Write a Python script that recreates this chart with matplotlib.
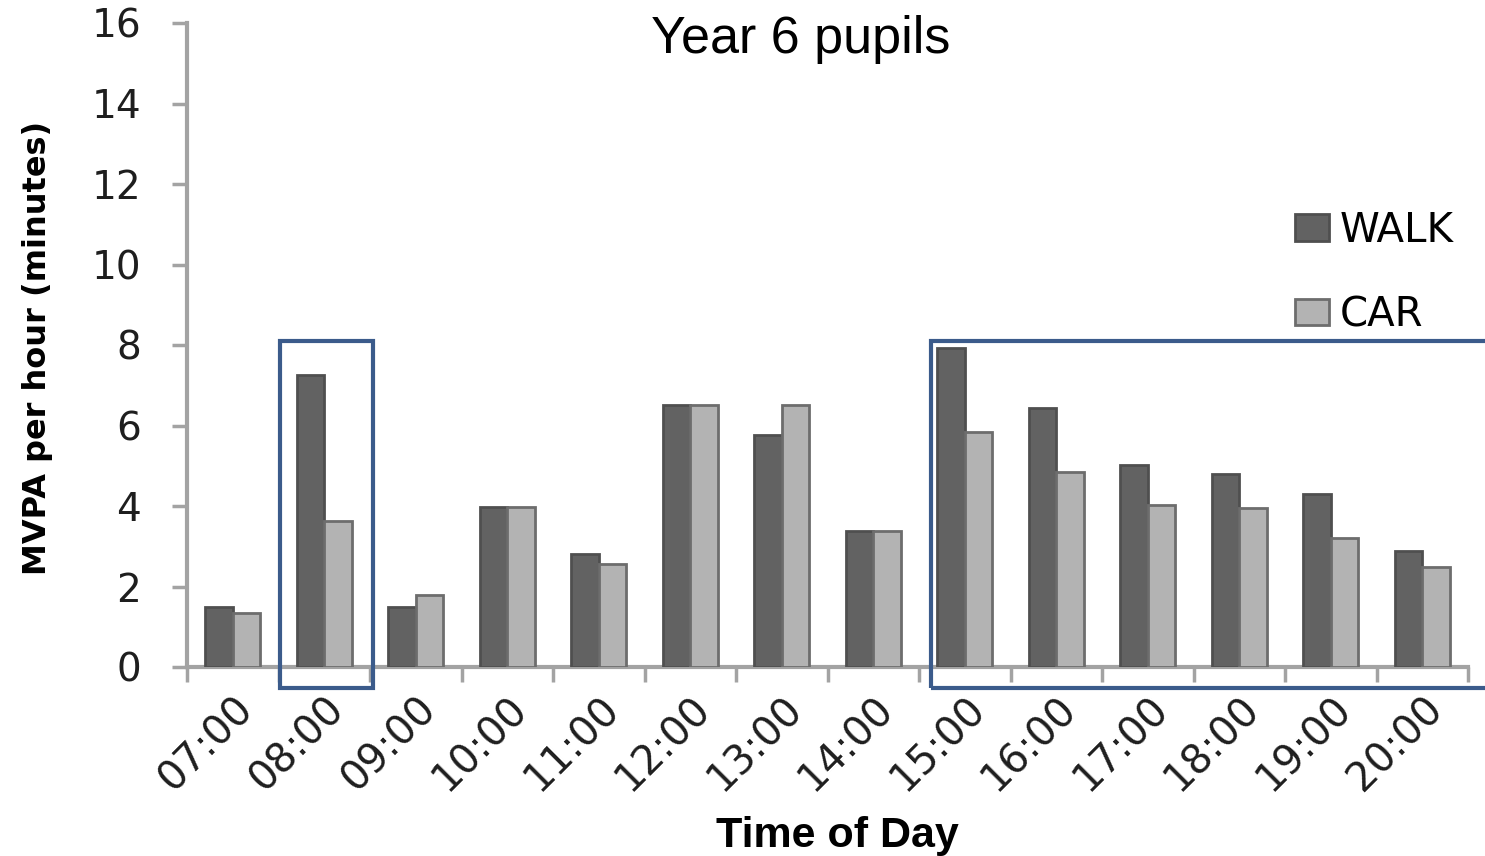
import matplotlib.pyplot as plt
import numpy as np
from matplotlib.patches import Rectangle, Patch

hours = ['07:00', '08:00', '09:00', '10:00', '11:00', '12:00', '13:00',
         '14:00', '15:00', '16:00', '17:00', '18:00', '19:00', '20:00']
walk = [1.50, 7.25, 1.50, 3.97, 2.81, 6.50, 5.76, 3.38, 7.93, 6.44, 5.02, 4.79, 4.29, 2.88]
car = [1.34, 3.63, 1.79, 3.97, 2.55, 6.50, 6.50, 3.38, 5.84, 4.85, 4.02, 3.94, 3.20, 2.49]

# highlight boxes (data coords: x0, x1, y0, y1)
boxes = [(0.52, 1.53, -0.52, 8.1), (7.63, 14.6, -0.52, 8.1)]

WALK_C, WALK_E = '#626262', '#4f4f4f'
CAR_C, CAR_E = '#b3b3b3', '#6d6d6d'
AXIS_C = '#a3a3a3'
BOX_C = '#3b5b8b'

fig = plt.figure(figsize=(14.85, 8.56), dpi=100)
ax = fig.add_axes([187 / 1485, 1 - 667 / 856, (1468 - 187) / 1485, (667 - 23) / 856])

x = np.arange(len(hours))
w = 0.3
ax.bar(x - w / 2, walk, w, color=WALK_C, edgecolor=WALK_E, linewidth=2, zorder=3)
ax.bar(x + w / 2, car, w, color=CAR_C, edgecolor=CAR_E, linewidth=2, zorder=3)

ax.set_xlim(-0.5, len(hours) - 0.5)
ax.set_ylim(0, 16)
ax.set_yticks(range(0, 17, 2))
ax.tick_params(axis='y', labelsize=28, length=11, width=2.5, color=AXIS_C,
               labelcolor='#1e1e1e', pad=22)

# ticks between categories, labels at centers
ax.set_xticks(np.arange(-0.5, len(hours), 1.0))
ax.set_xticklabels([])
ax.tick_params(axis='x', which='major', length=11, width=2.5, color=AXIS_C)
ax.set_xticks(x, minor=True)
ax.set_xticklabels(hours, minor=True, rotation=45, ha='right', va='top',
                   rotation_mode='anchor', fontsize=29, color='#1e1e1e')
ax.tick_params(axis='x', which='minor', length=0, pad=16)

for s in ['top', 'right']:
    ax.spines[s].set_visible(False)
for s in ['left', 'bottom']:
    ax.spines[s].set_color(AXIS_C)
    ax.spines[s].set_linewidth(3)

for x0, x1, y0, y1 in boxes:
    ax.add_patch(Rectangle((x0, y0), x1 - x0, y1 - y0, fill=False,
                           edgecolor=BOX_C, linewidth=3, clip_on=False, zorder=5))

fig.text(801 / 1485, 1 - 40 / 856, 'Year 6 pupils', ha='center', va='center',
         fontsize=37.5, family='Liberation Sans')
fig.text(38 / 1485, 1 - 348 / 856, 'MVPA per hour (minutes)', rotation=90,
         ha='center', va='center', fontsize=23, fontweight='bold')
fig.text(837 / 1485, 1 - 836 / 856, 'Time of Day', ha='center', va='center',
         fontsize=31, fontweight='bold', family='Liberation Sans')

handles = [Patch(facecolor=WALK_C, edgecolor=WALK_E, linewidth=2, label='WALK'),
           Patch(facecolor=CAR_C, edgecolor=CAR_E, linewidth=2, label='CAR')]
fig.legend(handles=handles, loc='center left', bbox_to_anchor=(1295 / 1485, 1 - 273 / 856),
           frameon=False, fontsize=29, handlelength=0.85, handleheight=0.65,
           handletextpad=0.25, labelspacing=1.1, borderpad=0, borderaxespad=0)

plt.savefig('out.png', dpi=100)
